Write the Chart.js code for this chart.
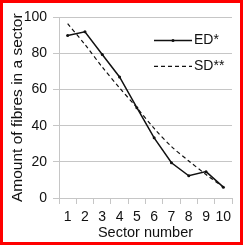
<!DOCTYPE html>
<html>
<head>
<meta charset="utf-8">
<script src="https://cdn.jsdelivr.net/npm/chart.js@4"></script>
<style>
  body { margin: 0; background: #fff; }
  #wrap { width: 243px; height: 245px; border: 3px solid #f00; box-sizing: border-box; }
  canvas { display: block; }
</style>
</head>
<body>
<div id="wrap"><canvas id="myChart" width="237" height="239"></canvas></div>
<script>
let sectors = ['1', '2', '3', '4', '5', '6', '7', '8', '9', '10'];
let edValues = [90, 92, 79.5, 67, 50, 33.3, 19.5, 12.3, 14.6, 6];
let sdValues = [96.5, 85, 72.5, 61, 50, 38.5, 28.5, 20.5, 13, 6];
let yTicks = [0, 20, 40, 60, 80, 100];

let fontFamily = '"Liberation Sans", Arial, sans-serif';
let gridGray = '#c6c6c6';

// legend drawn inside the plot, top right
let insideLegend = {
    id: 'insideLegend',
    afterDatasetsDraw(chart) {
        let c = chart.ctx;
        let area = chart.chartArea;
        let x0 = area.right - 78, x1 = area.right - 40;
        let rows = [{ y: area.top + 23, ds: chart.data.datasets[0] },
                    { y: area.top + 49, ds: chart.data.datasets[1] }];
        c.save();
        c.font = '14px ' + fontFamily;
        c.textBaseline = 'middle';
        rows.forEach(r => {
            c.strokeStyle = r.ds.borderColor;
            c.lineWidth = r.ds.borderWidth;
            c.setLineDash(r.ds.borderDash || []);
            c.beginPath();
            c.moveTo(x0, r.y);
            c.lineTo(x1, r.y);
            c.stroke();
            if (r.ds.pointRadius) {
                c.fillStyle = r.ds.borderColor;
                c.beginPath();
                c.arc((x0 + x1) / 2, r.y, r.ds.pointRadius, 0, Math.PI * 2);
                c.fill();
            }
            c.fillStyle = '#111';
            c.fillText(r.ds.label, x1 + 2, r.y);
        });
        c.restore();
    }
};

let ctx = document.getElementById('myChart').getContext('2d');
var myChart = new Chart(ctx, {
    type: 'line',
    data: {
        labels: sectors,
        datasets: [{
            label: 'ED*',
            data: edValues,
            borderColor: '#111',
            backgroundColor: '#111',
            borderWidth: 1.5,
            pointRadius: 1.5,
            pointBorderWidth: 0,
            tension: 0
        }, {
            label: 'SD**',
            data: sdValues,
            borderColor: '#111',
            borderWidth: 1.2,
            borderDash: [4, 3],
            pointRadius: 0,
            tension: 0.3
        }]
    },
    options: {
        responsive: false,
        animation: false,
        layout: { padding: { top: 13, right: 8, left: 0, bottom: 0 } },
        plugins: {
            legend: { display: false },
            tooltip: { enabled: false }
        },
        scales: {
            x: {
                offset: true,
                grid: { offset: true, drawOnChartArea: false, color: gridGray, tickLength: 6 },
                border: { color: gridGray },
                ticks: { color: '#111', font: { family: fontFamily, size: 14 }, padding: 5, maxRotation: 0, autoSkip: false },
                title: { display: true, text: 'Sector number', color: '#111', font: { family: fontFamily, size: 14.5 }, padding: { top: 0, bottom: 0 } },
                afterFit: s => { s.height = 44; }
            },
            y: {
                min: 0,
                max: 100,
                afterBuildTicks: s => { s.ticks = yTicks.map(v => ({ value: v })); },
                grid: { color: gridGray, tickLength: 6 },
                border: { color: gridGray },
                ticks: { color: '#111', font: { family: fontFamily, size: 14 }, padding: 6 },
                title: { display: true, text: 'Amount of fibres in a sector', color: '#111', font: { family: fontFamily, size: 15.5 }, padding: { top: 5.5, bottom: 0 } },
                afterFit: s => { s.width = 56; }
            }
        }
    },
    plugins: [insideLegend]
});
</script>
</body>
</html>
